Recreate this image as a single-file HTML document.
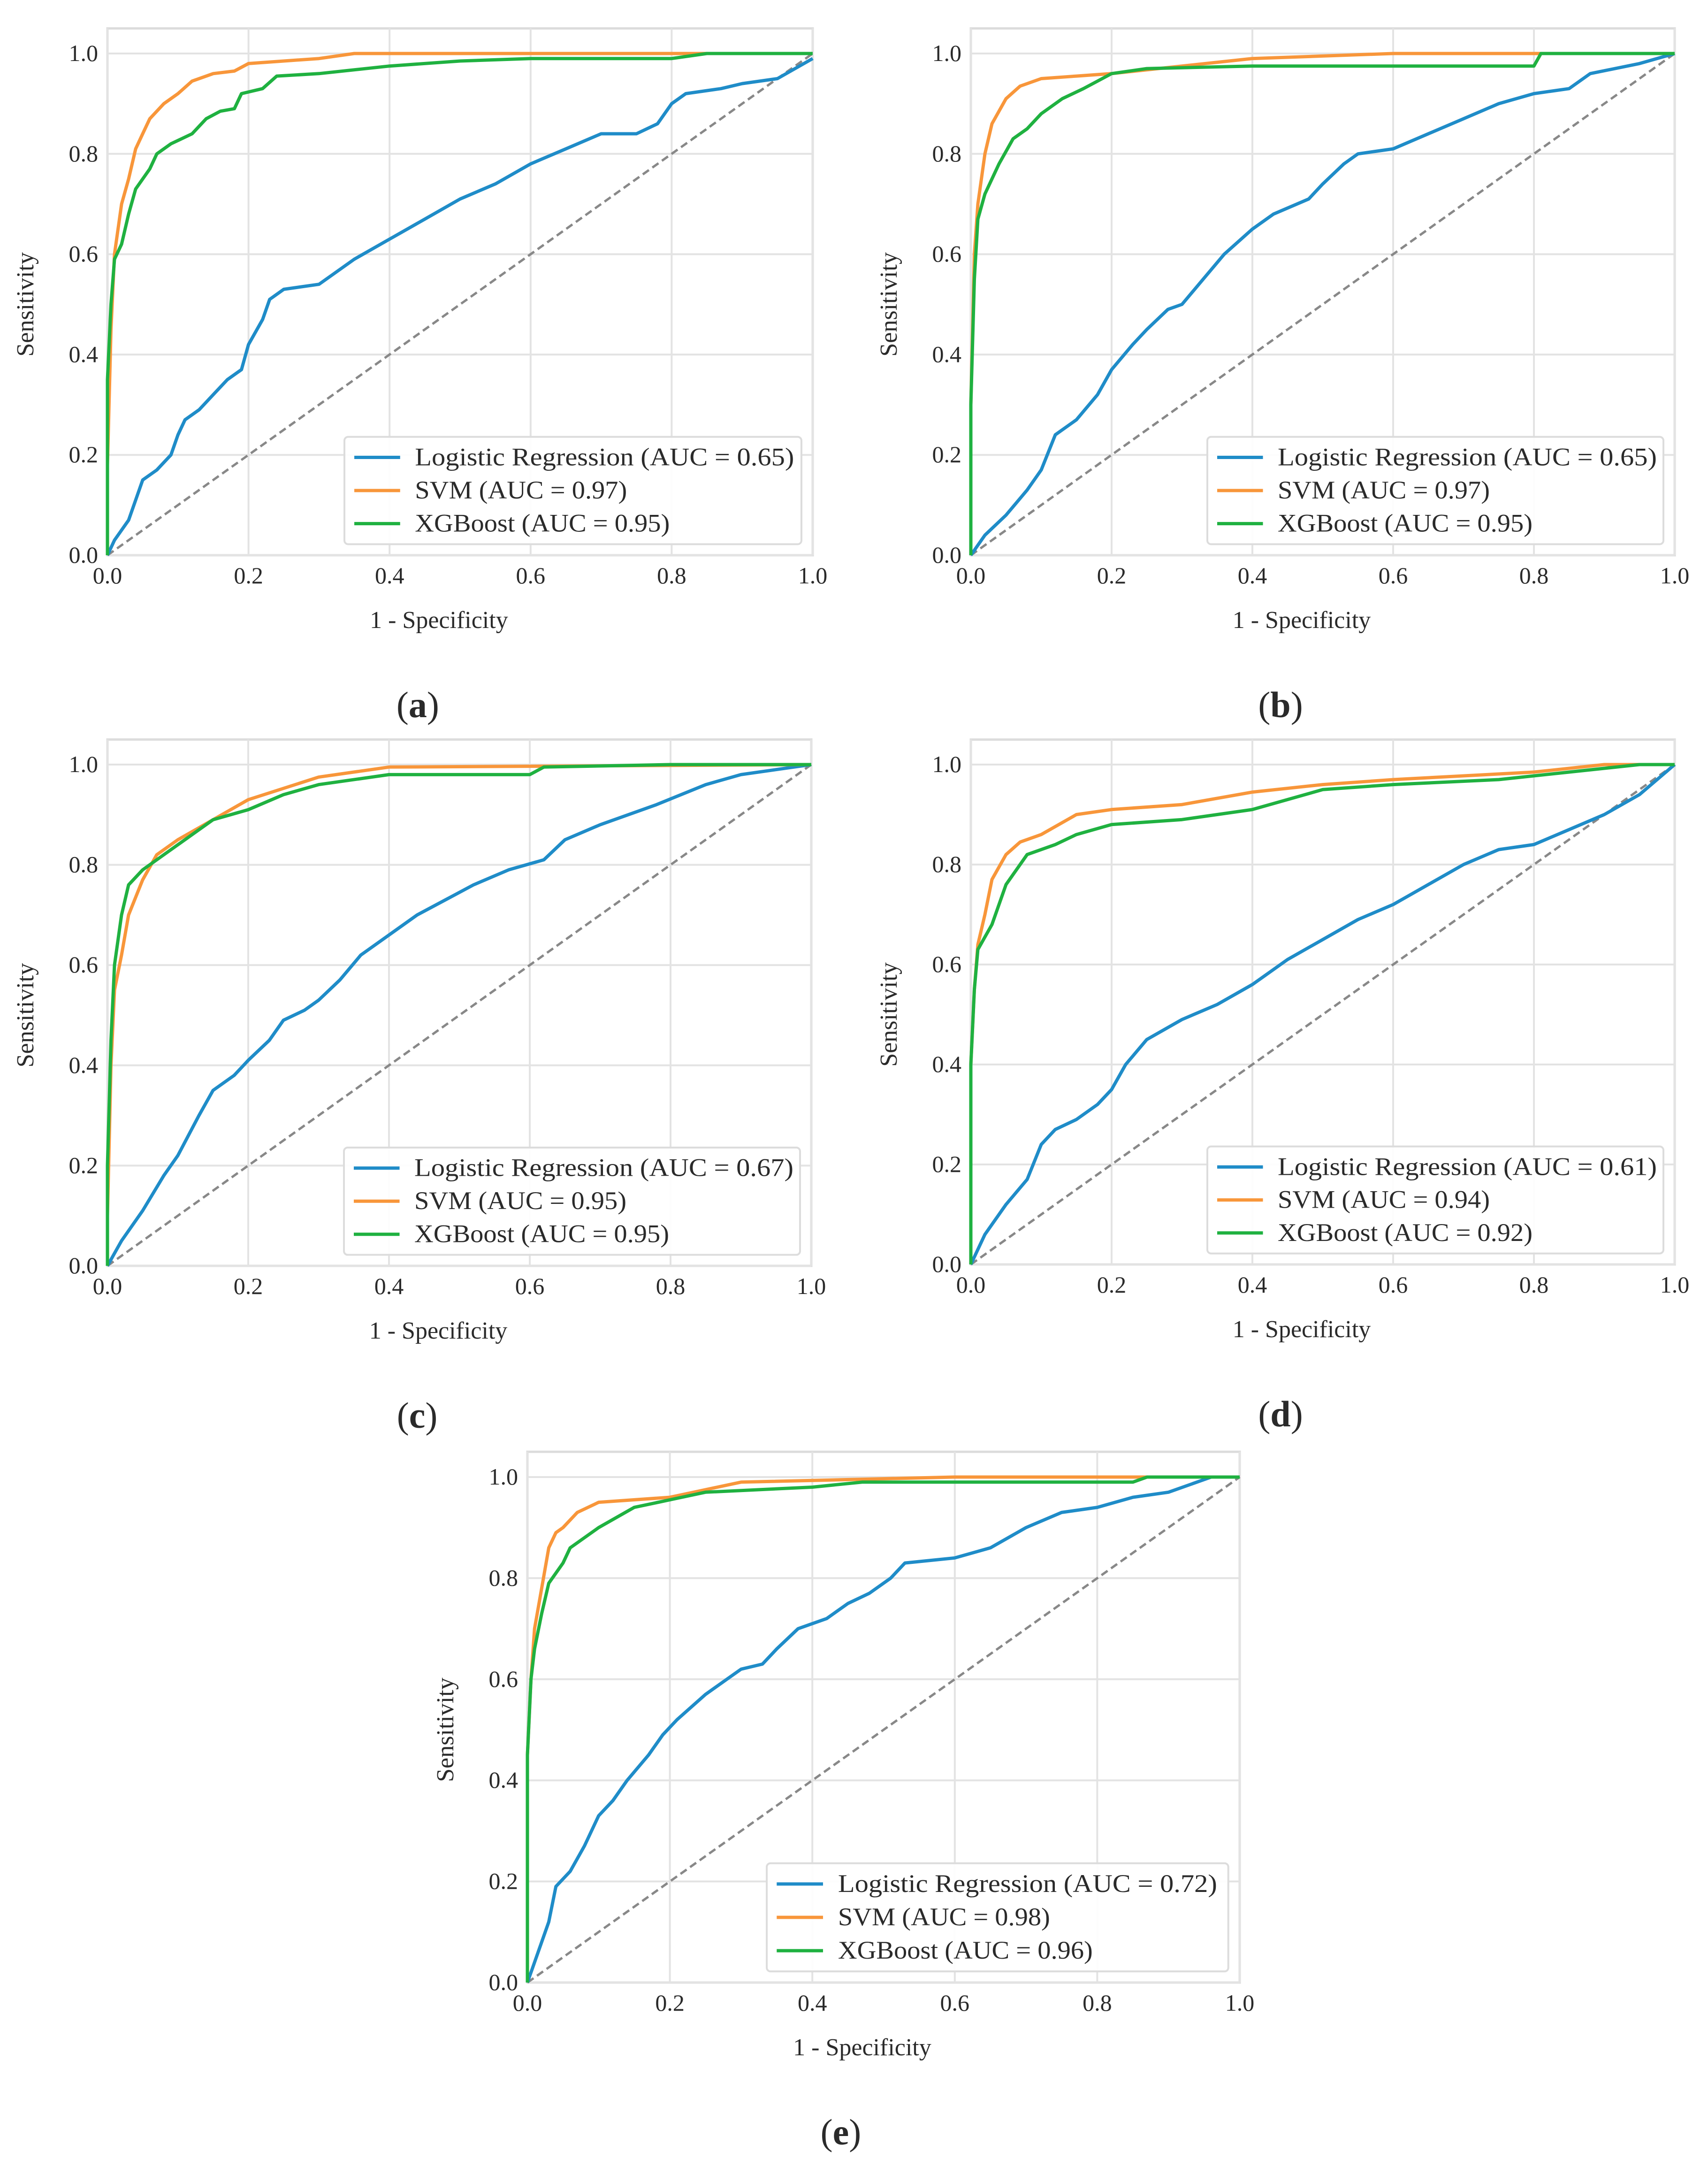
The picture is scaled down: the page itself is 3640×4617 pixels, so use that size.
<!DOCTYPE html>
<html><head><meta charset="utf-8"><style>
html,body{margin:0;padding:0;background:#fff;}
svg{display:block;}
text{font-family:"Liberation Serif","DejaVu Serif",serif;fill:#2a2a2a;}
</style></head><body>
<svg id="fig" width="3640" height="4617" viewBox="0 0 3640 4617"></svg>
<script>
// ---- data (fpr, tpr pairs) ----
const ticks = [0, 0.2, 0.4, 0.6, 0.8, 1.0];
const tickLabels = ["0.0","0.2","0.4","0.6","0.8","1.0"];
const seriesNames = ["Logistic Regression","SVM","XGBoost"];
const panelIds = ["a","b","c","d","e"];
const aucA = ["0.65","0.97","0.95"];
const aucB = ["0.65","0.97","0.95"];
const aucC = ["0.67","0.95","0.95"];
const aucD = ["0.61","0.94","0.92"];
const aucE = ["0.72","0.98","0.96"];

const lrA = [[0,0],[0.01,0.03],[0.03,0.07],[0.05,0.15],[0.07,0.17],[0.09,0.2],[0.1,0.24],[0.11,0.27],[0.13,0.29],[0.15,0.32],[0.17,0.35],[0.19,0.37],[0.2,0.42],[0.22,0.47],[0.23,0.51],[0.25,0.53],[0.3,0.54],[0.35,0.59],[0.4,0.63],[0.45,0.67],[0.5,0.71],[0.55,0.74],[0.6,0.78],[0.65,0.81],[0.7,0.84],[0.75,0.84],[0.78,0.86],[0.8,0.9],[0.82,0.92],[0.87,0.93],[0.9,0.94],[0.95,0.95],[1,0.99]];
const svmA = [[0,0],[0,0.18],[0.005,0.45],[0.01,0.6],[0.02,0.7],[0.03,0.75],[0.04,0.81],[0.05,0.84],[0.06,0.87],[0.08,0.9],[0.1,0.92],[0.12,0.945],[0.15,0.96],[0.18,0.965],[0.2,0.98],[0.25,0.985],[0.3,0.99],[0.35,1.0],[1,1]];
const xgbA = [[0,0],[0,0.35],[0.005,0.5],[0.01,0.59],[0.02,0.62],[0.03,0.68],[0.04,0.73],[0.06,0.77],[0.07,0.8],[0.09,0.82],[0.12,0.84],[0.14,0.87],[0.16,0.885],[0.18,0.89],[0.19,0.92],[0.22,0.93],[0.24,0.955],[0.3,0.96],[0.4,0.975],[0.5,0.985],[0.6,0.99],[0.8,0.99],[0.85,1.0],[1,1]];

const lrB = [[0,0],[0.02,0.04],[0.05,0.08],[0.08,0.13],[0.1,0.17],[0.12,0.24],[0.15,0.27],[0.18,0.32],[0.2,0.37],[0.23,0.42],[0.25,0.45],[0.28,0.49],[0.3,0.5],[0.33,0.55],[0.36,0.6],[0.4,0.65],[0.43,0.68],[0.48,0.71],[0.5,0.74],[0.53,0.78],[0.55,0.8],[0.6,0.81],[0.65,0.84],[0.7,0.87],[0.75,0.9],[0.8,0.92],[0.85,0.93],[0.88,0.96],[0.95,0.98],[1,1]];
const svmB = [[0,0],[0,0.3],[0.005,0.6],[0.01,0.7],[0.02,0.8],[0.03,0.86],[0.05,0.91],[0.07,0.935],[0.1,0.95],[0.15,0.955],[0.2,0.96],[0.3,0.975],[0.4,0.99],[0.6,1.0],[1,1]];
const xgbB = [[0,0],[0,0.3],[0.005,0.55],[0.01,0.67],[0.02,0.72],[0.04,0.78],[0.06,0.83],[0.08,0.85],[0.1,0.88],[0.13,0.91],[0.16,0.93],[0.2,0.96],[0.25,0.97],[0.4,0.975],[0.8,0.975],[0.81,1.0],[1,1]];

const lrC = [[0,0],[0.02,0.05],[0.05,0.11],[0.08,0.18],[0.1,0.22],[0.13,0.3],[0.15,0.35],[0.18,0.38],[0.2,0.41],[0.23,0.45],[0.25,0.49],[0.28,0.51],[0.3,0.53],[0.33,0.57],[0.36,0.62],[0.4,0.66],[0.44,0.7],[0.48,0.73],[0.52,0.76],[0.57,0.79],[0.62,0.81],[0.65,0.85],[0.7,0.88],[0.78,0.92],[0.85,0.96],[0.9,0.98],[1,1]];
const svmC = [[0,0],[0,0.1],[0.005,0.4],[0.01,0.55],[0.02,0.62],[0.03,0.7],[0.05,0.77],[0.07,0.82],[0.1,0.85],[0.15,0.89],[0.2,0.93],[0.3,0.975],[0.4,0.995],[1,1]];
const xgbC = [[0,0],[0,0.2],[0.005,0.45],[0.01,0.6],[0.02,0.7],[0.03,0.76],[0.05,0.79],[0.08,0.82],[0.12,0.86],[0.15,0.89],[0.2,0.91],[0.25,0.94],[0.3,0.96],[0.4,0.98],[0.6,0.98],[0.62,0.995],[0.8,1.0],[1,1]];

const lrD = [[0,0],[0.02,0.06],[0.05,0.12],[0.08,0.17],[0.1,0.24],[0.12,0.27],[0.15,0.29],[0.18,0.32],[0.2,0.35],[0.22,0.4],[0.25,0.45],[0.3,0.49],[0.35,0.52],[0.4,0.56],[0.45,0.61],[0.5,0.65],[0.55,0.69],[0.6,0.72],[0.65,0.76],[0.7,0.8],[0.75,0.83],[0.8,0.84],[0.85,0.87],[0.9,0.9],[0.95,0.94],[1,1]];
const svmD = [[0,0],[0,0.4],[0.005,0.55],[0.01,0.64],[0.02,0.7],[0.03,0.77],[0.05,0.82],[0.07,0.845],[0.1,0.86],[0.15,0.9],[0.2,0.91],[0.3,0.92],[0.4,0.945],[0.5,0.96],[0.6,0.97],[0.8,0.985],[0.9,1.0],[1,1]];
const xgbD = [[0,0],[0,0.4],[0.005,0.55],[0.01,0.63],[0.03,0.68],[0.05,0.76],[0.08,0.82],[0.12,0.84],[0.15,0.86],[0.2,0.88],[0.3,0.89],[0.4,0.91],[0.5,0.95],[0.6,0.96],[0.75,0.97],[0.85,0.985],[0.95,1.0],[1,1]];

const lrE = [[0,0],[0.01,0.04],[0.03,0.12],[0.04,0.19],[0.06,0.22],[0.08,0.27],[0.1,0.33],[0.12,0.36],[0.14,0.4],[0.17,0.45],[0.19,0.49],[0.21,0.52],[0.25,0.57],[0.28,0.6],[0.3,0.62],[0.33,0.63],[0.35,0.66],[0.38,0.7],[0.42,0.72],[0.45,0.75],[0.48,0.77],[0.51,0.8],[0.53,0.83],[0.6,0.84],[0.65,0.86],[0.7,0.9],[0.75,0.93],[0.8,0.94],[0.85,0.96],[0.9,0.97],[0.96,1.0],[1,1]];
const svmE = [[0,0],[0,0.45],[0.005,0.6],[0.01,0.7],[0.02,0.78],[0.03,0.86],[0.04,0.89],[0.05,0.9],[0.07,0.93],[0.1,0.95],[0.2,0.96],[0.3,0.99],[0.6,1.0],[1,1]];
const xgbE = [[0,0],[0,0.45],[0.005,0.6],[0.01,0.66],[0.02,0.73],[0.03,0.79],[0.05,0.83],[0.06,0.86],[0.1,0.9],[0.15,0.94],[0.2,0.955],[0.25,0.97],[0.4,0.98],[0.47,0.99],[0.85,0.99],[0.87,1.0],[1,1]];

const colors = ["#1f8cc8","#f8963a","#1fb140"];
const NS = "http://www.w3.org/2000/svg";
const svg = document.getElementById("fig");
function mk(tag, attrs, parent, txt){
  const e = document.createElementNS(NS, tag);
  for (const k in attrs) e.setAttribute(k, attrs[k]);
  if (txt !== undefined) e.textContent = txt;
  (parent||svg).appendChild(e);
  return e;
}
const layouts = [
  {id:"a", x0:229, x1:1732, yb:1183, yt:114},
  {id:"b", x0:2069, x1:3569, yb:1183, yt:114},
  {id:"c", x0:229, x1:1729, yb:2697, yt:1629},
  {id:"d", x0:2069, x1:3569, yb:2694, yt:1629},
  {id:"e", x0:1124, x1:2642, yb:4224, yt:3147}
];
const panelSeries = [[lrA,svmA,xgbA],[lrB,svmB,xgbB],[lrC,svmC,xgbC],[lrD,svmD,xgbD],[lrE,svmE,xgbE]];
const panelAuc = [aucA,aucB,aucC,aucD,aucE];

layouts.forEach((L, pi) => {
  const sx = v => L.x0 + v*(L.x1-L.x0);
  const sy = v => L.yb - v*(L.yb-L.yt);
  const g = mk("g", {});
  
  
  const top = sy(1.05);
  const frame = mk("rect", {x:L.x0, y:top, width:L.x1-L.x0, height:L.yb-top, fill:"#fff", stroke:"#dcdcdc", "stroke-width":5}, g);
  
  
  ticks.forEach((t, i) => {
    const gx = mk("line", {x1:sx(t), x2:sx(t), y1:top, y2:L.yb, stroke:"#e3e3e3", "stroke-width":4}, g);
    
    
    const gy = mk("line", {x1:L.x0, x2:L.x1, y1:sy(t), y2:sy(t), stroke:"#e3e3e3", "stroke-width":4}, g);
    
    
    const xl = mk("text", {x:sx(t), y:L.yb+60, "font-size":50, "text-anchor":"middle"}, g, tickLabels[i]);
    
    
    const yl = mk("text", {x:L.x0-20, y:sy(t)+16, "font-size":50, "text-anchor":"end"}, g, tickLabels[i]);
    
    
  });
  const diag = mk("line", {x1:sx(0), y1:sy(0), x2:sx(1), y2:sy(1), stroke:"#888", "stroke-width":5, "stroke-dasharray":"16,9"}, g);
  
  
  panelSeries[pi].forEach((pts, si) => {
    const d = pts.map((p, k) => (k ? "L" : "M") + sx(p[0]).toFixed(1) + "," + sy(p[1]).toFixed(1)).join("");
    const path = mk("path", {d:d, fill:"none", stroke:colors[si], "stroke-width":7, "stroke-linejoin":"round"}, g);
    
    
  });
  const lg = mk("g", {}, g);
  
  
  const lx0 = sx(0.336), lx1 = sx(0.984), ly0 = sy(0.236), ly1 = sy(0.022);
  mk("rect", {x:lx0, y:ly0, width:lx1-lx0, height:ly1-ly0, rx:8, fill:"#fff", "fill-opacity":0.9, stroke:"#dcdcdc", "stroke-width":4}, lg);
  const rowY = [0.195, 0.129, 0.063];
  const textLen = [808, 452, 543];
  seriesNames.forEach((n, si) => {
    const ent = mk("g", {}, lg);
    
    
    const y = sy(rowY[si]);
    mk("line", {x1:sx(0.35), x2:sx(0.415), y1:y, y2:y, stroke:colors[si], "stroke-width":7}, ent);
    mk("text", {x:sx(0.436), y:y+17, "font-size":54, textLength:textLen[si], lengthAdjust:"spacingAndGlyphs"}, ent, n + " (AUC = " + panelAuc[pi][si] + ")");
  });
  const ylab = mk("text", {x:0, y:0, "font-size":52, "text-anchor":"middle", transform:"translate(" + (L.x0-158) + "," + sy(0.5) + ") rotate(-90)"}, g, "Sensitivity");
  
  
  const xlab = mk("text", {x:sx(0.47), y:L.yb+155, "font-size":52, "text-anchor":"middle"}, g, "1 - Specificity");
  
  
  const cap = mk("text", {x:sx(0.44), y:L.yb+345, "font-size":78, "text-anchor":"middle"}, g);
  
  
  mk("tspan", {}, cap, "(");
  mk("tspan", {"font-weight":"bold"}, cap, L.id);
  mk("tspan", {}, cap, ")");
});
</script>
</body></html>
